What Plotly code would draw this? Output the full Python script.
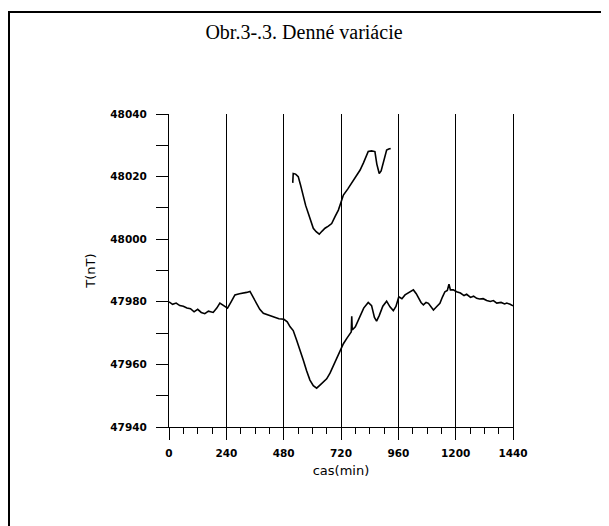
import plotly.graph_objects as go

# ---- data ----
x_main = [0, 15, 30, 45, 60, 75, 90, 105, 120, 135, 150, 165, 185, 200, 213, 228, 245, 260, 276, 295,
          311, 325, 339, 352, 367, 380, 395, 415, 437, 460, 481, 495, 507, 520, 534, 548, 562, 576, 590, 604,
          618, 632, 646, 660, 674, 690, 703, 716, 730, 745, 758, 763, 765, 767, 780, 800, 815, 834, 848, 860,
          869, 880, 895, 911, 925, 939, 950, 962, 975, 988, 1005, 1023, 1035, 1044, 1055, 1065, 1076, 1086, 1097, 1107,
          1120, 1134, 1145, 1155, 1165, 1172, 1178, 1190, 1204, 1220, 1235, 1246, 1262, 1275, 1288, 1300, 1315, 1330, 1345, 1358,
          1372, 1390, 1405, 1414, 1428, 1440]
y_main = [47980.0, 47979.2, 47979.6, 47978.8, 47978.6, 47978.0, 47977.8, 47976.8, 47977.6, 47976.6,
          47976.2, 47977.0, 47976.6, 47978.0, 47979.6, 47978.8, 47978.0, 47980.0, 47982.2, 47982.6,
          47982.7, 47983.0, 47983.3, 47981.5, 47979.4, 47977.6, 47976.3, 47975.8, 47975.2, 47974.6,
          47974.4, 47973.6, 47972.0, 47970.8, 47967.8, 47964.8, 47961.4, 47958.0, 47955.0, 47953.2,
          47952.4, 47953.4, 47954.5, 47955.4, 47957.2, 47960.0, 47962.2, 47964.6, 47966.6, 47968.4,
          47969.9, 47970.4, 47975.4, 47971.0, 47972.0, 47975.2, 47978.0, 47979.8, 47978.8, 47975.0,
          47973.8, 47975.6, 47978.6, 47980.2, 47978.4, 47977.2, 47978.5, 47981.6, 47981.0, 47982.2,
          47983.0, 47983.8, 47982.6, 47981.1, 47979.8, 47979.0, 47979.8, 47979.5, 47978.2, 47977.4,
          47978.4, 47979.5, 47981.6, 47983.2, 47983.6, 47985.6, 47983.8, 47983.8, 47983.2, 47982.8,
          47982.0, 47982.4, 47981.4, 47981.8, 47981.1, 47980.9, 47981.0, 47980.4, 47980.1, 47980.4,
          47979.6, 47979.8, 47979.3, 47979.6, 47979.2, 47978.7]

x_upper = [518, 520, 530, 541, 550, 562, 572, 583, 594, 604, 616, 629, 641, 653, 667, 681, 695, 709,
           720, 730, 748, 765, 782, 800, 814, 828, 834, 848, 862, 870, 880, 888, 897, 905, 911, 920, 928]
y_upper = [48018.0, 48021.0, 48020.8, 48020.0, 48017.5, 48013.6, 48010.8, 48008.3, 48005.8, 48003.5,
           48002.4, 48001.6, 48002.6, 48003.5, 48004.2, 48005.0, 48007.2, 48009.3, 48011.8, 48014.1,
           48016.0, 48017.9, 48020.0, 48022.1, 48024.4, 48026.9, 48028.0, 48028.2, 48028.0, 48024.0,
           48021.0, 48021.8, 48024.2, 48027.0, 48028.5, 48028.8, 48029.0]

x_ticks = [0, 240, 480, 720, 960, 1200, 1440]
x_ticklabels = ["0", "240", "480", "720", "960", "1200", "1440"]
y_ticks = [47940, 47960, 47980, 48000, 48020, 48040]
y_ticklabels = ["47940", "47960", "47980", "48000", "48020", "48040"]

title_text = "Obr.3-.3. Denné variácie"
x_title = "cas(min)"
y_title = "T(nT)"

# page body has an 8px margin: figure coordinates = screenshot coordinates - 8
W, H = 601, 518
L, R_EDGE, T, B_EDGE = 161, 505, 106, 419
PW, PH = R_EDGE - L, B_EDGE - T

fig = go.Figure()
fig.add_trace(go.Scatter(x=x_main, y=y_main, mode="lines",
                         line=dict(color="black", width=1.6), showlegend=False))
fig.add_trace(go.Scatter(x=x_upper, y=y_upper, mode="lines",
                         line=dict(color="black", width=1.6), showlegend=False))

tick_font = dict(family="DejaVu Sans", size=10.5, color="black", weight="bold")

fig.update_layout(
    width=W, height=H,
    margin=dict(l=L, r=W - R_EDGE, t=T, b=H - B_EDGE),
    paper_bgcolor="white", plot_bgcolor="white",
    title=dict(text=title_text, x=296 / W, xref="container", y=1 - 24 / H, yref="container",
               xanchor="center", yanchor="middle",
               font=dict(family="Liberation Serif", size=20, color="black")),
    xaxis=dict(range=[0, 1440], tickvals=x_ticks, ticktext=x_ticklabels,
               showgrid=True, gridcolor="black", gridwidth=1.2,
               zeroline=False, showline=True, linecolor="black", linewidth=1,
               ticks="outside", ticklen=12, tickcolor="black", tickwidth=1.2,
               ticklabelstandoff=4,
               minor=dict(dtick=60, tick0=0, ticks="outside", ticklen=6, tickcolor="black", showgrid=False),
               tickfont=tick_font,
               title=dict(text=x_title, standoff=8,
                          font=dict(family="DejaVu Sans", size=13, color="black"))),
    yaxis=dict(range=[47940, 48040], tickvals=y_ticks, ticktext=y_ticklabels,
               showgrid=False, zeroline=False, showline=True, linecolor="black", linewidth=1.2,
               mirror=True,
               ticks="outside", ticklen=12, tickcolor="black", tickwidth=1,
               ticklabelstandoff=7,
               minor=dict(dtick=10, tick0=47940, ticks="outside", ticklen=12, tickcolor="black", showgrid=False),
               tickfont=tick_font,
               title=dict(text=y_title, standoff=11,
                          font=dict(family="DejaVu Sans", size=13, color="black"))),
    shapes=[dict(type="rect", xref="paper", yref="paper",
                 x0=(1 - L) / PW, x1=(596 - L) / PW,
                 y0=(B_EDGE - 540) / PH, y1=(B_EDGE - 4) / PH,
                 line=dict(color="black", width=2), fillcolor="rgba(0,0,0,0)", layer="above")],
)

fig.write_html("out.html")
